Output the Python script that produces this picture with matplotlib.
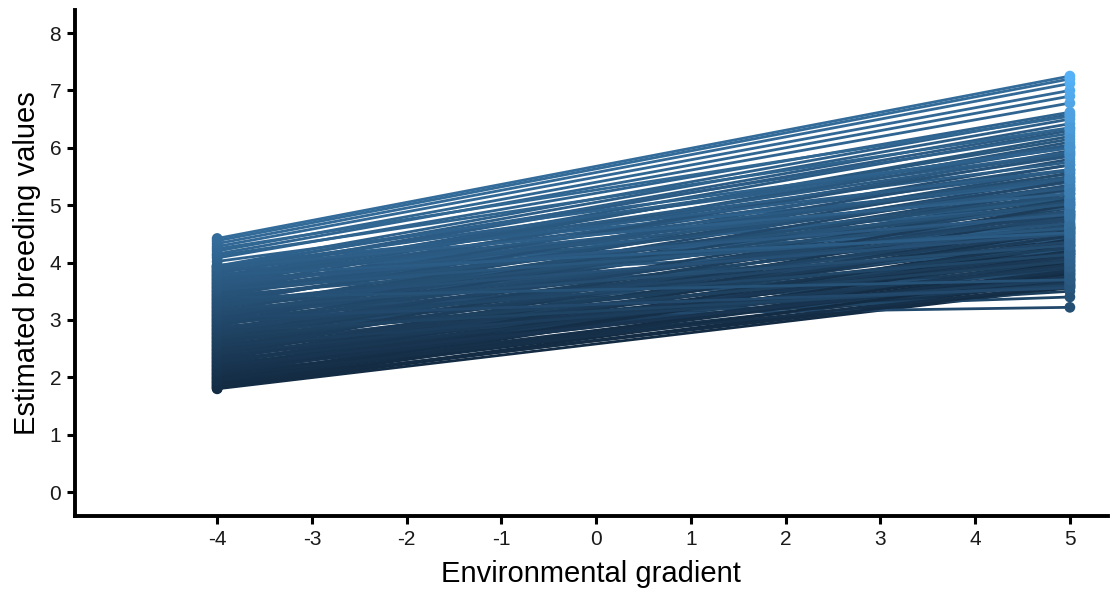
import matplotlib
matplotlib.use('Agg')
import matplotlib.pyplot as plt
from matplotlib.colors import LinearSegmentedColormap, Normalize

# estimated breeding values at the two ends of the gradient, one pair per individual
env_low = -4
env_high = 5

ebv_low = [
    1.80, 1.82, 1.84, 1.86, 1.89, 1.91, 1.93, 1.96, 1.98, 2.00,
    2.02, 2.05, 2.07, 2.09, 2.12, 2.14, 2.16, 2.19, 2.21, 2.23,
    2.26, 2.28, 2.30, 2.33, 2.35, 2.37, 2.40, 2.42, 2.44, 2.47,
    2.49, 2.51, 2.54, 2.56, 2.58, 2.61, 2.63, 2.65, 2.68, 2.70,
    2.72, 2.75, 2.77, 2.79, 2.82, 2.84, 2.86, 2.89, 2.91, 2.93,
    2.96, 2.98, 3.00, 3.02, 3.05, 3.07, 3.09, 3.12, 3.14, 3.16,
    3.19, 3.21, 3.23, 3.26, 3.28, 3.30, 3.33, 3.35, 3.37, 3.40,
    3.42, 3.44, 3.47, 3.49, 3.51, 3.54, 3.56, 3.58, 3.61, 3.63,
    3.65, 3.68, 3.70, 3.72, 3.75, 3.77, 3.79, 3.82, 3.84, 3.86,
    3.89, 3.91, 3.93, 3.95,
    1.81, 1.85, 1.88, 1.92, 1.95, 1.99, 2.03, 2.06, 2.10, 2.13,
    2.17, 2.20, 2.24, 2.27, 2.31, 2.34, 2.38, 2.41, 2.45, 2.48,
    2.52, 2.55, 2.59, 2.62, 2.66, 2.69, 2.73, 2.76, 2.80, 2.83,
    2.87, 2.90, 2.94, 2.97, 3.01, 3.04, 3.08, 3.11, 3.15, 3.18,
    3.22, 3.25, 3.29, 3.32, 3.36, 3.39, 3.43, 3.46, 3.50, 3.53,
    3.57, 3.60, 3.64, 3.67, 3.71, 3.74, 3.78, 3.81, 3.85, 3.88,
    3.92, 3.94,
    4.02, 4.08, 4.12, 4.15, 4.20, 4.24, 4.28, 4.33, 4.38, 4.42,
]

ebv_high = [
    3.56, 3.68, 3.95, 3.62, 4.20, 3.74, 3.88, 4.45, 3.70, 4.05,
    3.82, 4.32, 3.66, 4.10, 3.94, 4.60, 3.78, 4.24, 4.02, 3.72,
    4.48, 4.15, 3.90, 4.75, 4.30, 4.06, 3.64, 4.52, 4.22, 4.90,
    3.98, 4.38, 4.66, 4.12, 3.50, 4.80, 4.44, 4.18, 5.05, 4.58,
    3.86, 4.34, 4.95, 4.70, 4.08, 5.20, 4.50, 3.40, 4.86, 4.62,
    5.35, 4.28, 3.22, 5.00, 4.74, 5.48, 4.42, 5.12, 4.90, 3.80,
    5.62, 5.26, 4.56, 5.04, 5.80, 4.82, 5.40, 4.20, 5.15, 5.95,
    4.68, 5.55, 5.30, 6.10, 4.96, 5.70, 4.40, 5.45, 6.20, 5.10,
    5.85, 4.78, 6.30, 5.60, 5.25, 6.05, 5.00, 6.42, 5.75, 4.60,
    6.50, 5.92, 6.25, 5.40,
    3.80, 4.00, 3.58, 4.30, 3.84, 4.15, 3.60, 4.40, 3.86, 4.20,
    4.55, 3.76, 4.36, 3.96, 4.64, 4.10, 4.82, 3.92, 4.46, 4.16,
    5.00, 3.70, 4.54, 4.26, 4.88, 4.02, 5.10, 4.60, 3.60, 4.84,
    4.36, 5.28, 4.14, 4.78, 5.42, 3.56, 5.06, 4.64, 5.56, 4.30,
    5.20, 4.88, 5.70, 4.50, 5.34, 3.70, 5.88, 5.02, 5.50, 4.60,
    6.02, 5.30, 4.84, 6.15, 5.46, 5.90, 4.52, 6.34, 5.62, 6.00,
    5.20, 6.58,
    6.00, 6.62, 6.35, 6.78, 6.90, 6.55, 7.00, 7.12, 7.20, 7.25,
]

x_ticks = [-4, -3, -2, -1, 0, 1, 2, 3, 4, 5]
y_ticks = [0, 1, 2, 3, 4, 5, 6, 7, 8]

plt.rcParams['font.family'] = ['Liberation Sans', 'DejaVu Sans']

cmap = LinearSegmentedColormap.from_list('gg', ['#132B43', '#56B1F7'])
all_vals = ebv_low + ebv_high
norm = Normalize(vmin=min(all_vals), vmax=max(all_vals))

fig = plt.figure(figsize=(11.1, 5.94), dpi=100)
ax = fig.add_axes([0.0676, 0.131, 0.9304, 0.852])

for lo, hi in zip(ebv_low, ebv_high):
    ax.plot([env_low, env_high], [lo, hi], color=cmap(norm(lo)), lw=2.0,
            solid_capstyle='butt', zorder=2)

ax.scatter([env_low] * len(ebv_low), ebv_low, c=cmap(norm(ebv_low)), s=60,
           linewidths=0, zorder=3)
ax.scatter([env_high] * len(ebv_high), ebv_high, c=cmap(norm(ebv_high)), s=60,
           linewidths=0, zorder=3)

ax.set_xlim(-5.5, 5.4)
ax.set_ylim(-0.42, 8.4)
ax.set_xticks(x_ticks)
ax.set_yticks(y_ticks)
ax.set_xticklabels([str(t) for t in x_ticks])

for side in ['top', 'right']:
    ax.spines[side].set_visible(False)
for side in ['left', 'bottom']:
    ax.spines[side].set_linewidth(2.8)
    ax.spines[side].set_color('black')

ax.tick_params(axis='both', which='major', length=6, width=2.2, color='black',
               labelsize=15, labelcolor='#1a1a1a', pad=4)

ax.set_xlabel('Environmental gradient', fontsize=21, labelpad=8)
ax.set_ylabel('Estimated breeding values', fontsize=21, labelpad=6)

fig.savefig('out.png', dpi=100)
